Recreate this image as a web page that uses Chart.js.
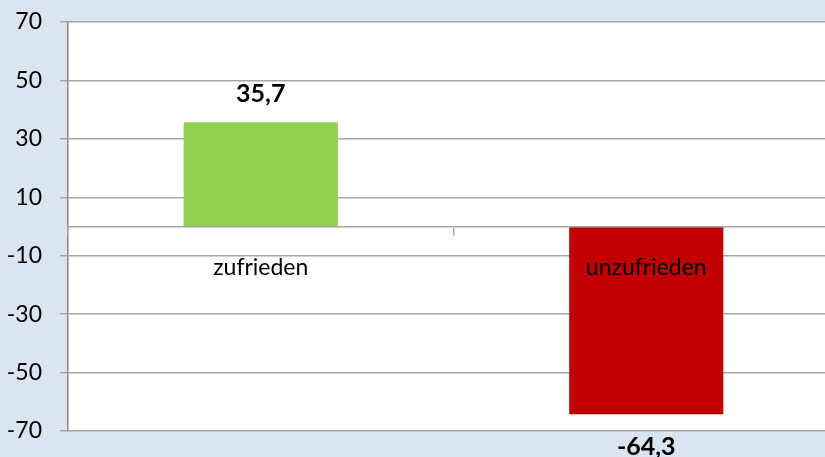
<!DOCTYPE html>
<html>
<head>
<meta charset="utf-8">
<script src="https://cdn.jsdelivr.net/npm/chart.js@4"></script>
<style>
  html, body { margin: 0; padding: 0; background: #dbe5f1; overflow: hidden; }
  #wrap { width: 845px; height: 457px; }
</style>
</head>
<body>
<div id="wrap"><canvas id="barChart"></canvas></div>
<script>
const categories = ['zufrieden', 'unzufrieden'];
const values = [35.7, -64.3];
const barColors = ['#92d050', '#c00000'];
const yMin = -70, yMax = 70, yStep = 20;

const fontFamily = 'Lato, "Open Sans", sans-serif';

// white plot area
const plotBg = {
  id: 'plotBg',
  beforeDraw(chart) {
    const { ctx, chartArea: a } = chart;
    ctx.save();
    ctx.fillStyle = '#ffffff';
    ctx.fillRect(a.left, a.top, a.right - a.left, a.bottom - a.top);
    ctx.restore();
  }
};

// bold value labels above / below the bars
const valueLabels = {
  id: 'valueLabels',
  afterDraw(chart) {
    const { ctx } = chart;
    const meta = chart.getDatasetMeta(0);
    ctx.save();
    ctx.font = 'bold 25px ' + fontFamily;
    ctx.fillStyle = '#000';
    ctx.textAlign = 'center';
    ctx.textBaseline = 'middle';
    meta.data.forEach((bar, i) => {
      const v = values[i];
      const txt = v.toFixed(1).replace('.', ',');
      const y = v >= 0 ? bar.y - 28 : bar.y + 33;
      ctx.fillText(txt, bar.x, y);
    });
    ctx.restore();
  }
};

const ctx = document.getElementById('barChart').getContext('2d');
new Chart(ctx, {
  type: 'bar',
  data: {
    labels: categories,
    datasets: [{
      data: values,
      backgroundColor: barColors,
      borderWidth: 0,
      categoryPercentage: 0.4,
      barPercentage: 1
    }]
  },
  options: {
    responsive: true,
    maintainAspectRatio: false,
    animation: false,
    layout: { padding: { top: 22, bottom: 26, left: 0, right: 6 } },
    plugins: { legend: { display: false }, tooltip: { enabled: false } },
    scales: {
      x: {
        position: { y: 0 },
        offset: true,
        grid: { offset: true, drawOnChartArea: false, drawTicks: true, tickLength: 8, color: '#a6a6a6', lineWidth: 1.5, z: 1 },
        border: { display: true, color: '#a6a6a6', width: 1.5, z: 1 },
        ticks: { z: 1, color: '#000', padding: 19, font: { family: fontFamily, size: 23 } }
      },
      y: {
        min: yMin,
        max: yMax,
        afterFit(scale) {
          scale.width = 68;
          scale.paddingTop = 0;
          scale.paddingBottom = 0;
        },
        afterBuildTicks(scale) {
          const t = [];
          for (let v = yMin; v <= yMax; v += yStep) t.push({ value: v });
          scale.ticks = t;
        },
        grid: { color: '#a6a6a6', lineWidth: 1.5, tickLength: 8 },
        border: { display: true, color: '#868686', width: 1.5 },
        ticks: { color: '#000', padding: 18, font: { family: fontFamily, size: 23 } }
      }
    }
  },
  plugins: [plotBg, valueLabels]
});
</script>
</body>
</html>
